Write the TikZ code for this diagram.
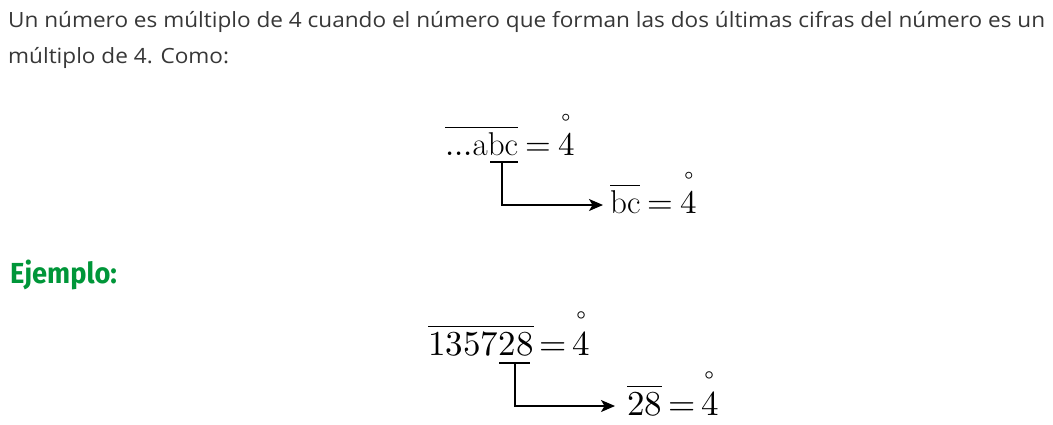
\documentclass[tikz,border=0pt]{standalone}
\usepackage{amsmath}
\usepackage{fontspec}
\usepackage{unicode-math}
\setmainfont{Open Sans}
\setmathfont{Latin Modern Math}
\setmathrm{Latin Modern Roman}
\newfontfamily\ejfont{Fira Sans}
\usetikzlibrary{arrows.meta}
\definecolor{bodytext}{RGB}{55,55,55}
\definecolor{ejgreen}{RGB}{0,150,57}
\newcommand{\ringfour}{\overset{\raisebox{3pt}{$\scriptstyle\circ$}}{4}}
\newcommand{\tighteq}{\mskip-2mu=\mskip-2mu}
\newcommand{\paratext}[1]{\scalebox{1.075}[1]{#1}}
\tikzset{
  para/.style={anchor=base west,inner sep=0pt,text=bodytext,font=\fontsize{21}{25}\selectfont},
  heading/.style={anchor=base west,inner sep=0pt,text=ejgreen,font=\ejfont\bfseries\fontsize{29}{34}\selectfont},
  mathA/.style={anchor=base west,inner sep=0pt,font=\fontsize{33}{40}\selectfont},
  mathB/.style={anchor=base west,inner sep=0pt,font=\fontsize{35}{42}\selectfont},
  underl/.style={line width=1.5pt},
  conn/.style={line width=1.3pt,-{Stealth[length=14pt,width=12pt,inset=3.5pt]}}
}
\begin{document}
\begin{tikzpicture}[x=1pt,y=-1pt]
\useasboundingbox[fill=white] (0,0) rectangle (1053,424);
\node[para] (l1) at (8,27) {\paratext{Un número es múltiplo de 4 cuando el número que forman las dos últimas cifras del número es un}};
\node[para] (l2) at (8,63) {\paratext{múltiplo de 4. Como:}};
\node[heading] (ej) at (10,283) {\scalebox{0.94}[1]{Ejemplo:}};
% first example
\node[mathA] (e1) at (445,155) {$\overline{\mathrm{...abc}}\mskip-1mu=\mskip-1mu\ringfour$};
\node[mathA] (e2) at (610,213) {$\overline{\mathrm{bc}}\mskip-1mu=\mskip-1mu\ringfour$};
\coordinate (u1a) at (490,162);
\coordinate (u1b) at (518,162);
\coordinate (u1m) at (502,162);
\coordinate (t1) at (603,205);
\draw[underl] (u1a) -- (u1b);
\draw[conn] (u1m) |- (t1);
% second example
\node[mathB] (e3) at (428,355) {$\overline{135728}\tighteq\ringfour$};
\node[mathB] (e4) at (627,415) {$\overline{28}\tighteq\ringfour$};
\coordinate (u2a) at (499,363);
\coordinate (u2b) at (530,363);
\coordinate (u2m) at (515,363);
\coordinate (t2) at (615,406);
\draw[underl] (u2a) -- (u2b);
\draw[conn] (u2m) |- (t2);
\end{tikzpicture}
\end{document}
